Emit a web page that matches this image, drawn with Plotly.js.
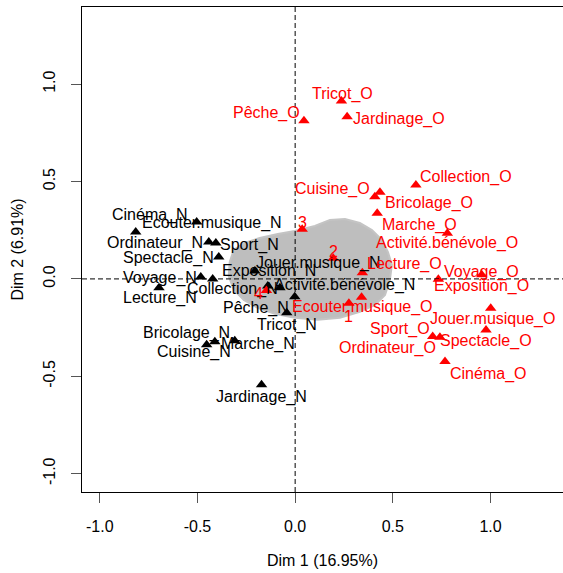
<!DOCTYPE html>
<html>
<head>
<meta charset="utf-8">
<script src="https://cdn.plot.ly/plotly-3.0.1.min.js"></script>
<style>html,body{margin:0;padding:0;background:#fff;}#chart{width:563px;height:573px;}</style>
</head>
<body>
<div id="chart"></div>
<script>
// ---- data ----
const catN = ["Cinéma_N","Ecouter.musique_N","Ordinateur_N","Sport_N","Spectacle_N","Voyage_N",
  "Collection_N","Lecture_N","Exposition_N","Activité.bénévole_N","Jouer.musique_N","Pêche_N",
  "Tricot_N","Cuisine_N","Bricolage_N","Marche_N","Jardinage_N"];
const xN = [-0.816,-0.504,-0.442,-0.406,-0.391,-0.483,-0.422,-0.697,-0.206,-0.140,-0.078,-0.002,
  -0.043,-0.453,-0.411,-0.309,-0.172];
const yN = [0.241,0.292,0.190,0.185,0.113,0.010,0.000,-0.046,0.041,-0.036,-0.046,-0.092,
  -0.174,-0.338,-0.323,-0.318,-0.544];

const catO = ["Tricot_O","Pêche_O","Jardinage_O","Cuisine_O","Bricolage_O","Collection_O","Marche_O",
  "Activité.bénévole_O","Lecture_O","Voyage_O","Exposition_O","Ecouter.musique_O","Jouer.musique_O",
  "Spectacle_O","Sport_O","Ordinateur_O","Cinéma_O"];
const xO = [0.237,0.045,0.266,0.408,0.434,0.618,0.420,0.779,0.344,0.955,0.733,0.340,1.001,0.977,0.704,0.741,0.767];
const yO = [0.914,0.812,0.832,0.422,0.445,0.482,0.337,0.234,0.032,0.021,-0.002,-0.094,-0.150,-0.262,-0.296,-0.299,-0.424];

const catSup = ["1","2","3","4"];
const xSup = [0.275,0.195,0.036,-0.147];
const ySup = [-0.125,0.106,0.255,-0.060];

// outline of the dense cloud of individuals
const cloudX = [-0.335,-0.314,-0.258,-0.181,-0.089,-0.002,0.101,0.178,0.255,0.331,0.393,0.444,0.475,0.495,
  0.485,0.460,0.409,0.331,0.229,0.116,-0.002,-0.104,-0.191,-0.263,-0.314,-0.340,-0.335];
const cloudY = [0.087,0.149,0.185,0.210,0.231,0.246,0.272,0.303,0.308,0.287,0.251,0.200,0.138,0.072,
  -0.005,-0.082,-0.133,-0.169,-0.200,-0.210,-0.200,-0.179,-0.149,-0.108,-0.056,0.015,0.087];

const tickVals = [-1.0,-0.5,0.0,0.5,1.0];
const tickLabels = ["-1.0","-0.5","0.0","0.5","1.0"];
const xTitle = "Dim 1 (16.95%)";
const yTitle = "Dim 2 (6.91%)";

// ---- label placement (pixel offsets from each point: [dx, dy down]) ----
const offN = [[14,-17],[15,1],[-54,1],[34,2],[-50,1],[-41,1],[20,10],[1,10],[14,0],[77,-1],[39,-25],
  [-39,11],[0,12],[-13,7],[-28,-9],[23,3],[0,12]];
const offO = [[1,-7],[-37,-8],[52,2],[-42,-8],[49,11],[50,-8],[42,12],[0,10],[42,-9],[0,-3],[43,7],
  [1,10],[2,11],[0,11],[-33,-8],[-52,11],[43,12]];
const offSup = [[0,13],[0,-7],[0,-7],[-8,3]];

const FONT = "Liberation Sans, Arial, sans-serif";
const RED = "#FF0000";

const traces = [
  {x: cloudX, y: cloudY, mode: "lines", fill: "toself", fillcolor: "#bebebe",
   line: {color: "#c4c4c4", width: 2}, hoverinfo: "skip", showlegend: false},
  {x: xN, y: yN, mode: "markers", marker: {symbol: "triangle-up", size: 10, color: "#000"}, showlegend: false},
  {x: xO, y: yO, mode: "markers", marker: {symbol: "triangle-up", size: 10, color: RED}, showlegend: false},
  {x: xSup, y: ySup, mode: "markers", marker: {symbol: "triangle-up", size: 10, color: RED}, showlegend: false}
];

const annotations = [];
function addLabels(cats, xs, ys, offs, color) {
  cats.forEach((c, i) => {
    annotations.push({x: xs[i], y: ys[i], xref: "x", yref: "y", text: c, showarrow: false,
      xanchor: "center", yanchor: "middle", xshift: offs[i][0], yshift: -offs[i][1],
      font: {family: FONT, size: 16, color: color}});
  });
}
addLabels(catN, xN, yN, offN, "#000");
addLabels(catO, xO, yO, offO, RED);
addLabels(catSup, xSup, ySup, offSup, RED);

const axisCommon = {
  showgrid: false, zeroline: false, showline: true, mirror: true, linecolor: "#000", linewidth: 1,
  ticks: "outside", ticklen: 10, tickcolor: "#555", tickwidth: 1,
  tickmode: "array", tickvals: tickVals, ticktext: tickLabels,
  tickfont: {family: FONT, size: 16, color: "#000"}
};

const layout = {
  width: 563, height: 573,
  margin: {l: 82, r: 0, t: 7, b: 81},
  paper_bgcolor: "#fff", plot_bgcolor: "#fff",
  showlegend: false,
  xaxis: Object.assign({}, axisCommon, {range: [-1.091, 1.371], ticklabelstandoff: 10,
    title: {text: xTitle, font: {family: FONT, size: 16, color: "#000"}, standoff: 20}}),
  yaxis: Object.assign({}, axisCommon, {range: [-1.094, 1.396], tickangle: -90, ticklabelstandoff: 10,
    title: {text: yTitle, font: {family: FONT, size: 16, color: "#000"}, standoff: 12}}),
  shapes: [
    {type: "line", xref: "x", yref: "paper", x0: 0, x1: 0, y0: 0, y1: 1,
     line: {color: "#000", width: 1, dash: "5px,3px"}},
    {type: "line", xref: "paper", yref: "y", x0: 0, x1: 1, y0: 0, y1: 0,
     line: {color: "#000", width: 1, dash: "5px,3px"}}
  ],
  annotations: annotations
};

Plotly.newPlot("chart", traces, layout, {displayModeBar: false, staticPlot: true});
</script>
</body>
</html>
